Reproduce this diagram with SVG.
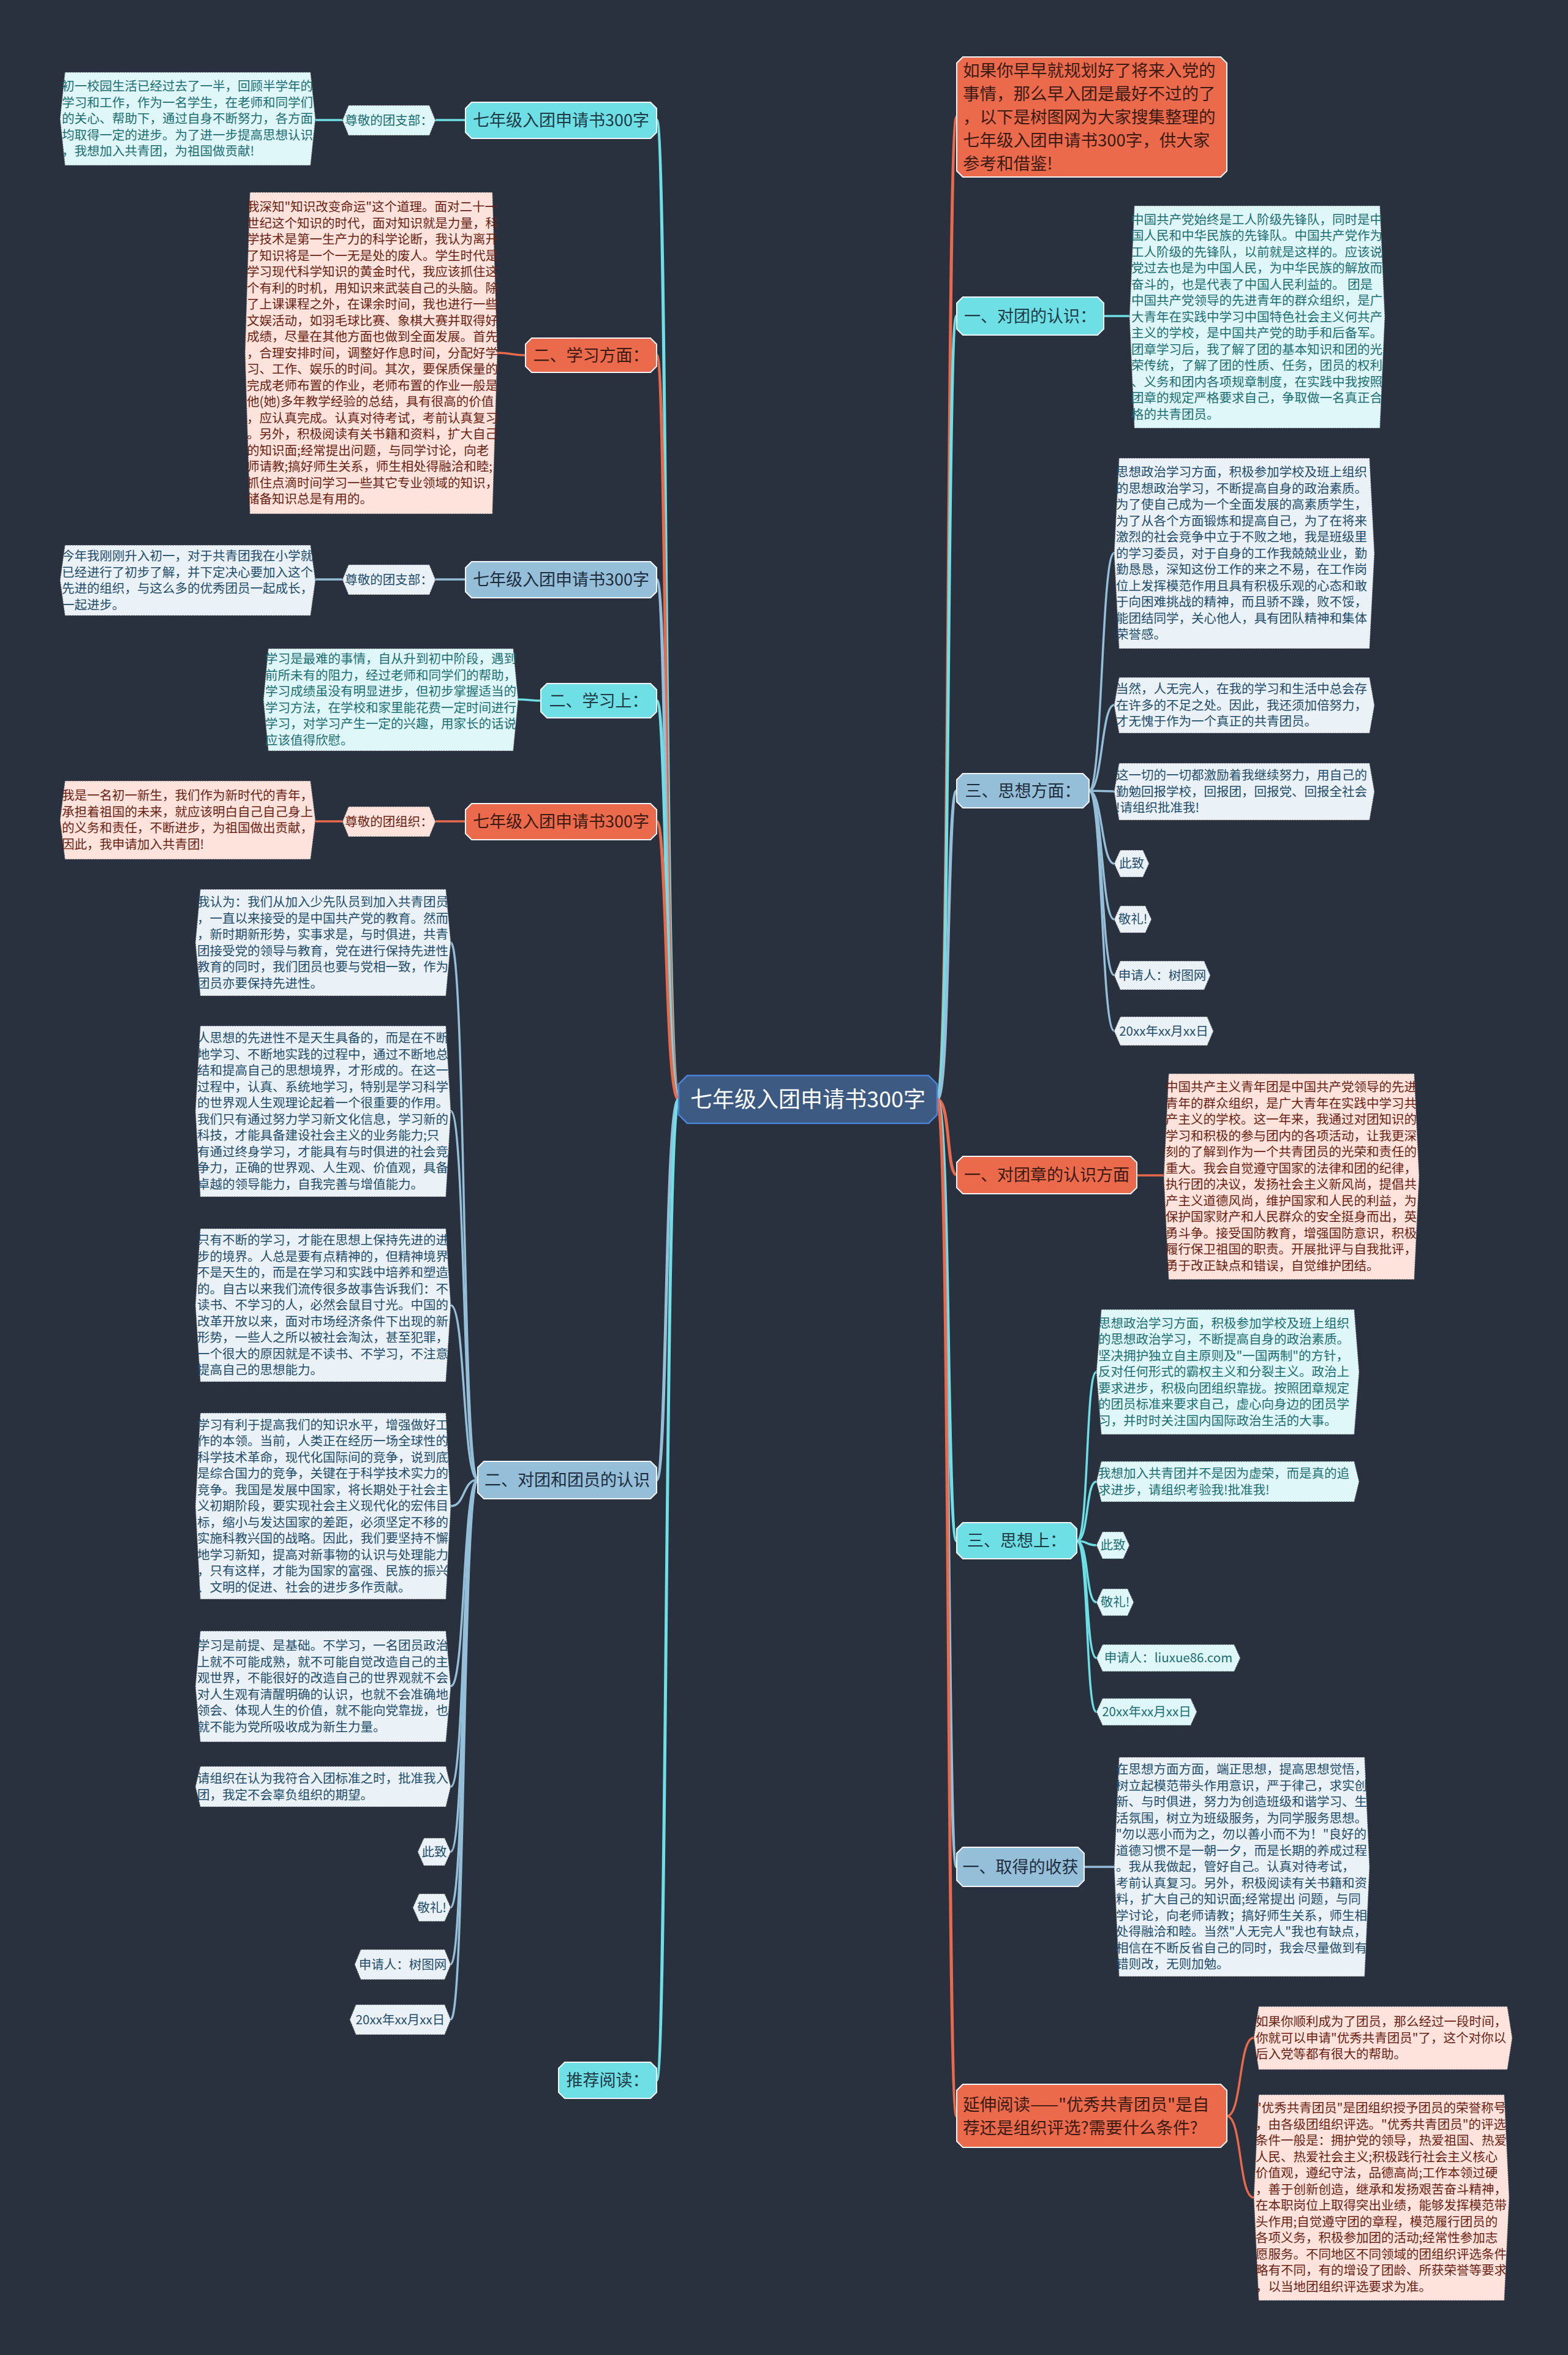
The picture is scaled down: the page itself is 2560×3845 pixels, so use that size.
<svg xmlns="http://www.w3.org/2000/svg" width="2560" height="3845" viewBox="0 0 2560 3845">
<style>
.t{font-family:"Noto Sans CJK SC","Noto Sans",sans-serif}
.bt{font-size:20.5px}
.mt{font-size:27px}
.tc{fill:#1b6e73}.tb{fill:#1f4d6b}.tp{fill:#6b1f12}
.fc{fill:#dff7f9}.fb{fill:#eaf2f8}.fp{fill:#fde3dc}
.sh{stroke:#4a4f57;stroke-width:1.2;stroke-dasharray:2 2}
.mc{fill:#6ddfe5}.mo{fill:#ec6a4c}.mb{fill:#95bed8}
.ms{stroke:#f2f6f8;stroke-width:2}
.mtc{fill:#1f3b45}.mto{fill:#3b1a12}.mtb{fill:#1e2d3d}
.lc{stroke:#6ddfe5;fill:none}.lo{stroke:#e8694b;fill:none}.lb{stroke:#95bed8;fill:none}
.w5{stroke-width:5}.w3{stroke-width:3.5}
</style>
<rect width="2560" height="3845" fill="#29313f"/>
<g id="connectors">
<path class="lc w5" d="M1108,1795 C1085,1795 1090,196 1072,196"/>
<path class="lo w5" d="M1108,1795 C1085,1795 1090,580 1072,580"/>
<path class="lb w5" d="M1108,1795 C1085,1795 1090,946 1072,946"/>
<path class="lc w5" d="M1108,1795 C1085,1795 1090,1144 1072,1144"/>
<path class="lo w5" d="M1108,1795 C1085,1795 1090,1341 1072,1341"/>
<path class="lb w5" d="M1108,1795 C1085,1795 1090,2416 1072,2416"/>
<path class="lc w5" d="M1108,1795 C1085,1795 1090,3396 1072,3396"/>
<path class="lo w5" d="M1530,1795 C1552,1795 1545,191 1562,191"/>
<path class="lc w5" d="M1530,1795 C1552,1795 1545,516 1562,516"/>
<path class="lb w5" d="M1530,1795 C1552,1795 1545,1291 1562,1291"/>
<path class="lo w5" d="M1530,1795 C1552,1795 1545,1918 1562,1918"/>
<path class="lc w5" d="M1530,1795 C1552,1795 1545,2516 1562,2516"/>
<path class="lb w5" d="M1530,1795 C1552,1795 1545,3048 1562,3048"/>
<path class="lo w5" d="M1530,1795 C1552,1795 1545,3455 1562,3455"/>
<path class="lc w3" d="M760,196 H711 M559,196 H515"/>
<path class="lo w3" d="M858,580 C835,580 835,576 812,576"/>
<path class="lb w3" d="M760,946 H711 M559,946 H515"/>
<path class="lc w3" d="M883,1144 C865,1144 865,1142 846,1142"/>
<path class="lo w3" d="M760,1341 H711 M559,1341 H515"/>
<path class="lb w3" d="M780,2416 C755,2416 760,1539 736,1539"/>
<path class="lb w3" d="M780,2416 C755,2416 760,1814 736,1814"/>
<path class="lb w3" d="M780,2416 C755,2416 760,2131 736,2131"/>
<path class="lb w3" d="M780,2416 C755,2416 760,2459 736,2459"/>
<path class="lb w3" d="M780,2416 C755,2416 760,2753 736,2753"/>
<path class="lb w3" d="M780,2416 C755,2416 760,2917 736,2917"/>
<path class="lb w3" d="M780,2416 C755,2416 760,3023 736,3023"/>
<path class="lb w3" d="M780,2416 C755,2416 760,3114 736,3114"/>
<path class="lb w3" d="M780,2416 C755,2416 760,3207 736,3207"/>
<path class="lb w3" d="M780,2416 C755,2416 760,3297 736,3297"/>
<path class="lc w3" d="M1802,516 H1844"/>
<path class="lb w3" d="M1778,1291 C1800,1291 1798,903 1819,903"/>
<path class="lb w3" d="M1778,1291 C1800,1291 1798,1151 1819,1151"/>
<path class="lb w3" d="M1778,1291 C1800,1291 1798,1292 1819,1292"/>
<path class="lb w3" d="M1778,1291 C1800,1291 1798,1410 1819,1410"/>
<path class="lb w3" d="M1778,1291 C1800,1291 1798,1501 1819,1501"/>
<path class="lb w3" d="M1778,1291 C1800,1291 1798,1592 1819,1592"/>
<path class="lb w3" d="M1778,1291 C1800,1291 1798,1683 1819,1683"/>
<path class="lo w3" d="M1856,1919 H1900"/>
<path class="lc w3" d="M1758,2516 C1778,2516 1772,2240 1790,2240"/>
<path class="lc w3" d="M1758,2516 C1778,2516 1772,2419 1790,2419"/>
<path class="lc w3" d="M1758,2516 C1778,2516 1772,2523 1790,2523"/>
<path class="lc w3" d="M1758,2516 C1778,2516 1772,2616 1790,2616"/>
<path class="lc w3" d="M1758,2516 C1778,2516 1772,2707 1790,2707"/>
<path class="lc w3" d="M1758,2516 C1778,2516 1772,2795 1790,2795"/>
<path class="lb w3" d="M1770,3048 H1819"/>
<path class="lo w3" d="M2003,3455 C2028,3455 2022,3327 2047,3327"/>
<path class="lo w3" d="M2003,3455 C2028,3455 2022,3588 2047,3588"/>
</g>
<g id="root">
<polygon points="1122,1756 1516,1756 1530,1770 1530,1820 1516,1834 1122,1834 1108,1820 1108,1770" fill="#3c5a82" stroke="#4a84d8" stroke-width="2.5"/>
<text class="t" x="1319" y="1808" font-size="36" fill="#ffffff" text-anchor="middle">七年级入团申请书300字</text>
</g>
<g id="L1">
<polygon class="mc ms" points="770,167 1062,167 1072,177 1072,216 1062,226 770,226 760,216 760,177"/>
<text class="t mt mtc" x="916" y="206" text-anchor="middle">七年级入团申请书300字</text>
</g>
<g id="L1a">
<polygon class="fc sh" points="569,172 701,172 711,196.5 701,221 569,221 559,196.5"/>
<text class="t bt tc" x="635" y="204" text-anchor="middle">尊敬的团支部：</text>
</g>
<g id="L1b">
<polygon class="fc sh" points="106,118 507,118 515,194 507,270 106,270 98,194"/>
<text class="t bt tc" y="148"><tspan x="101">初一校园生活已经过去了一半，回顾半学年的</tspan><tspan x="101" dy="26.5">学习和工作，作为一名学生，在老师和同学们</tspan><tspan x="101" dy="26.5">的关心、帮助下，通过自身不断努力，各方面</tspan><tspan x="101" dy="26.5">均取得一定的进步。为了进一步提高思想认识</tspan><tspan x="101" dy="26.5">，我想加入共青团，为祖国做贡献!</tspan></text>
</g>
<g id="L2">
<polygon class="mo ms" points="868,552 1062,552 1072,562 1072,598 1062,608 868,608 858,598 858,562"/>
<text class="t mt mto" x="965" y="589.5" text-anchor="middle">二、学习方面：</text>
</g>
<g id="L2a">
<polygon class="fp sh" points="408,314 804,314 812,576.5 804,839 408,839 400,576.5"/>
<text class="t bt tp" y="345"><tspan x="403">我深知"知识改变命运"这个道理。面对二十一</tspan><tspan x="403" dy="26.5">世纪这个知识的时代，面对知识就是力量，科</tspan><tspan x="403" dy="26.5">学技术是第一生产力的科学论断，我认为离开</tspan><tspan x="403" dy="26.5">了知识将是一个一无是处的废人。学生时代是</tspan><tspan x="403" dy="26.5">学习现代科学知识的黄金时代，我应该抓住这</tspan><tspan x="403" dy="26.5">个有利的时机，用知识来武装自己的头脑。除</tspan><tspan x="403" dy="26.5">了上课课程之外，在课余时间，我也进行一些</tspan><tspan x="403" dy="26.5">文娱活动，如羽毛球比赛、象棋大赛并取得好</tspan><tspan x="403" dy="26.5">成绩，尽量在其他方面也做到全面发展。首先</tspan><tspan x="403" dy="26.5">，合理安排时间，调整好作息时间，分配好学</tspan><tspan x="403" dy="26.5">习、工作、娱乐的时间。其次，要保质保量的</tspan><tspan x="403" dy="26.5">完成老师布置的作业，老师布置的作业一般是</tspan><tspan x="403" dy="26.5">他(她)多年教学经验的总结，具有很高的价值</tspan><tspan x="403" dy="26.5">，应认真完成。认真对待考试，考前认真复习</tspan><tspan x="403" dy="26.5">。另外，积极阅读有关书籍和资料，扩大自己</tspan><tspan x="403" dy="26.5">的知识面;经常提出问题，与同学讨论，向老</tspan><tspan x="403" dy="26.5">师请教;搞好师生关系，师生相处得融洽和睦;</tspan><tspan x="403" dy="26.5">抓住点滴时间学习一些其它专业领域的知识，</tspan><tspan x="403" dy="26.5">储备知识总是有用的。</tspan></text>
</g>
<g id="L3">
<polygon class="mb ms" points="770,917 1062,917 1072,927 1072,966 1062,976 770,976 760,966 760,927"/>
<text class="t mt mtb" x="916" y="956" text-anchor="middle">七年级入团申请书300字</text>
</g>
<g id="L3a">
<polygon class="fb sh" points="569,922 701,922 711,946.5 701,971 569,971 559,946.5"/>
<text class="t bt tb" x="635" y="954" text-anchor="middle">尊敬的团支部：</text>
</g>
<g id="L3b">
<polygon class="fb sh" points="106,890 507,890 515,947.5 507,1005 106,1005 98,947.5"/>
<text class="t bt tb" y="915"><tspan x="101">今年我刚刚升入初一，对于共青团我在小学就</tspan><tspan x="101" dy="26.5">已经进行了初步了解，并下定决心要加入这个</tspan><tspan x="101" dy="26.5">先进的组织，与这么多的优秀团员一起成长，</tspan><tspan x="101" dy="26.5">一起进步。</tspan></text>
</g>
<g id="L4">
<polygon class="mc ms" points="893,1116 1062,1116 1072,1126 1072,1162 1062,1172 893,1172 883,1162 883,1126"/>
<text class="t mt mtc" x="977.5" y="1153.5" text-anchor="middle">二、学习上：</text>
</g>
<g id="L4a">
<polygon class="fc sh" points="438,1059 838,1059 846,1142.5 838,1226 438,1226 430,1142.5"/>
<text class="t bt tc" y="1083"><tspan x="433">学习是最难的事情，自从升到初中阶段，遇到</tspan><tspan x="433" dy="26.5">前所未有的阻力，经过老师和同学们的帮助，</tspan><tspan x="433" dy="26.5">学习成绩虽没有明显进步，但初步掌握适当的</tspan><tspan x="433" dy="26.5">学习方法，在学校和家里能花费一定时间进行</tspan><tspan x="433" dy="26.5">学习，对学习产生一定的兴趣，用家长的话说</tspan><tspan x="433" dy="26.5">应该值得欣慰。</tspan></text>
</g>
<g id="L5">
<polygon class="mo ms" points="770,1312 1062,1312 1072,1322 1072,1361 1062,1371 770,1371 760,1361 760,1322"/>
<text class="t mt mto" x="916" y="1351" text-anchor="middle">七年级入团申请书300字</text>
</g>
<g id="L5a">
<polygon class="fp sh" points="569,1317 701,1317 711,1341.5 701,1366 569,1366 559,1341.5"/>
<text class="t bt tp" x="635" y="1349" text-anchor="middle">尊敬的团组织：</text>
</g>
<g id="L5b">
<polygon class="fp sh" points="106,1275 507,1275 515,1339 507,1403 106,1403 98,1339"/>
<text class="t bt tp" y="1306"><tspan x="101">我是一名初一新生，我们作为新时代的青年，</tspan><tspan x="101" dy="26.5">承担着祖国的未来，就应该明白自己自己身上</tspan><tspan x="101" dy="26.5">的义务和责任，不断进步，为祖国做出贡献，</tspan><tspan x="101" dy="26.5">因此，我申请加入共青团!</tspan></text>
</g>
<g id="L6">
<polygon class="mb ms" points="790,2386 1062,2386 1072,2396 1072,2437 1062,2447 790,2447 780,2437 780,2396"/>
<text class="t mt mtb" x="926" y="2426" text-anchor="middle">二、对团和团员的认识</text>
</g>
<g id="L6a">
<polygon class="fb sh" points="327,1452 728,1452 736,1539 728,1626 327,1626 319,1539"/>
<text class="t bt tb" y="1480"><tspan x="322">我认为：我们从加入少先队员到加入共青团员</tspan><tspan x="322" dy="26.5">，一直以来接受的是中国共产党的教育。然而</tspan><tspan x="322" dy="26.5">，新时期新形势，实事求是，与时俱进，共青</tspan><tspan x="322" dy="26.5">团接受党的领导与教育，党在进行保持先进性</tspan><tspan x="322" dy="26.5">教育的同时，我们团员也要与党相一致，作为</tspan><tspan x="322" dy="26.5">团员亦要保持先进性。</tspan></text>
</g>
<g id="L6b">
<polygon class="fb sh" points="327,1675 728,1675 736,1814.5 728,1954 327,1954 319,1814.5"/>
<text class="t bt tb" y="1702"><tspan x="322">人思想的先进性不是天生具备的，而是在不断</tspan><tspan x="322" dy="26.5">地学习、不断地实践的过程中，通过不断地总</tspan><tspan x="322" dy="26.5">结和提高自己的思想境界，才形成的。在这一</tspan><tspan x="322" dy="26.5">过程中，认真、系统地学习，特别是学习科学</tspan><tspan x="322" dy="26.5">的世界观人生观理论起着一个很重要的作用。</tspan><tspan x="322" dy="26.5">我们只有通过努力学习新文化信息，学习新的</tspan><tspan x="322" dy="26.5">科技，才能具备建设社会主义的业务能力;只</tspan><tspan x="322" dy="26.5">有通过终身学习，才能具有与时俱进的社会竞</tspan><tspan x="322" dy="26.5">争力，正确的世界观、人生观、价值观，具备</tspan><tspan x="322" dy="26.5">卓越的领导能力，自我完善与增值能力。</tspan></text>
</g>
<g id="L6c">
<polygon class="fb sh" points="327,2006 728,2006 736,2131 728,2256 327,2256 319,2131"/>
<text class="t bt tb" y="2032"><tspan x="322">只有不断的学习，才能在思想上保持先进的进</tspan><tspan x="322" dy="26.5">步的境界。人总是要有点精神的，但精神境界</tspan><tspan x="322" dy="26.5">不是天生的，而是在学习和实践中培养和塑造</tspan><tspan x="322" dy="26.5">的。自古以来我们流传很多故事告诉我们：不</tspan><tspan x="322" dy="26.5">读书、不学习的人，必然会鼠目寸光。中国的</tspan><tspan x="322" dy="26.5">改革开放以来，面对市场经济条件下出现的新</tspan><tspan x="322" dy="26.5">形势，一些人之所以被社会淘汰，甚至犯罪，</tspan><tspan x="322" dy="26.5">一个很大的原因就是不读书、不学习，不注意</tspan><tspan x="322" dy="26.5">提高自己的思想能力。</tspan></text>
</g>
<g id="L6d">
<polygon class="fb sh" points="327,2307 728,2307 736,2459 728,2611 327,2611 319,2459"/>
<text class="t bt tb" y="2333.5"><tspan x="322">学习有利于提高我们的知识水平，增强做好工</tspan><tspan x="322" dy="26.5">作的本领。当前，人类正在经历一场全球性的</tspan><tspan x="322" dy="26.5">科学技术革命，现代化国际间的竞争，说到底</tspan><tspan x="322" dy="26.5">是综合国力的竞争，关键在于科学技术实力的</tspan><tspan x="322" dy="26.5">竞争。我国是发展中国家，将长期处于社会主</tspan><tspan x="322" dy="26.5">义初期阶段，要实现社会主义现代化的宏伟目</tspan><tspan x="322" dy="26.5">标，缩小与发达国家的差距，必须坚定不移的</tspan><tspan x="322" dy="26.5">实施科教兴国的战略。因此，我们要坚持不懈</tspan><tspan x="322" dy="26.5">地学习新知，提高对新事物的认识与处理能力</tspan><tspan x="322" dy="26.5">，只有这样，才能为国家的富强、民族的振兴</tspan><tspan x="322" dy="26.5">、文明的促进、社会的进步多作贡献。</tspan></text>
</g>
<g id="L6e">
<polygon class="fb sh" points="327,2663 728,2663 736,2753.5 728,2844 327,2844 319,2753.5"/>
<text class="t bt tb" y="2694"><tspan x="322">学习是前提、是基础。不学习，一名团员政治</tspan><tspan x="322" dy="26.5">上就不可能成熟，就不可能自觉改造自己的主</tspan><tspan x="322" dy="26.5">观世界，不能很好的改造自己的世界观就不会</tspan><tspan x="322" dy="26.5">对人生观有清醒明确的认识，也就不会准确地</tspan><tspan x="322" dy="26.5">领会、体现人生的价值，就不能向党靠拢，也</tspan><tspan x="322" dy="26.5">就不能为党所吸收成为新生力量。</tspan></text>
</g>
<g id="L6f">
<polygon class="fb sh" points="327,2884 728,2884 736,2917 728,2950 327,2950 319,2917"/>
<text class="t bt tb" y="2911"><tspan x="322">请组织在认为我符合入团标准之时，批准我入</tspan><tspan x="322" dy="26.5">团，我定不会辜负组织的期望。</tspan></text>
</g>
<g id="L6g">
<polygon class="fb sh" points="692,3001 726,3001 736,3023.5 726,3046 692,3046 682,3023.5"/>
<text class="t bt tb" x="709" y="3031" text-anchor="middle">此致</text>
</g>
<g id="L6h">
<polygon class="fb sh" points="684,3092 726,3092 736,3114.5 726,3137 684,3137 674,3114.5"/>
<text class="t bt tb" x="705" y="3122" text-anchor="middle">敬礼!</text>
</g>
<g id="L6i">
<polygon class="fb sh" points="589,3183 726,3183 736,3207.5 726,3232 589,3232 579,3207.5"/>
<text class="t bt tb" x="657.5" y="3215" text-anchor="middle">申请人：树图网</text>
</g>
<g id="L6j">
<polygon class="fb sh" points="581,3273 726,3273 736,3297.5 726,3322 581,3322 571,3297.5"/>
<text class="t bt tb" x="653.5" y="3305" text-anchor="middle">20xx年xx月xx日</text>
</g>
<g id="L7">
<polygon class="mc ms" points="922,3367 1062,3367 1072,3377 1072,3416 1062,3426 922,3426 912,3416 912,3377"/>
<text class="t mt mtc" x="992" y="3406" text-anchor="middle">推荐阅读：</text>
</g>
<g id="R0">
<polygon class="mo ms" points="1572,93 1993,93 2003,103 2003,279 1993,289 1572,289 1562,279 1562,103"/>
<text class="t mto" font-size="27.5" y="125"><tspan x="1572">如果你早早就规划好了将来入党的</tspan><tspan x="1572" dy="38">事情，那么早入团是最好不过的了</tspan><tspan x="1572" dy="38">，以下是树图网为大家搜集整理的</tspan><tspan x="1572" dy="38">七年级入团申请书300字，供大家</tspan><tspan x="1572" dy="38">参考和借鉴!</tspan></text>
</g>
<g id="R1">
<polygon class="mc ms" points="1572,485 1792,485 1802,495 1802,537 1792,547 1572,547 1562,537 1562,495"/>
<text class="t mt mtc" x="1682" y="525.5" text-anchor="middle">一、对团的认识：</text>
</g>
<g id="R1a">
<polygon class="fc sh" points="1852,336 2253,336 2261,517.5 2253,699 1852,699 1844,517.5"/>
<text class="t bt tc" y="365.5"><tspan x="1847">中国共产党始终是工人阶级先锋队，同时是中</tspan><tspan x="1847" dy="26.5">国人民和中华民族的先锋队。中国共产党作为</tspan><tspan x="1847" dy="26.5">工人阶级的先锋队，以前就是这样的。应该说</tspan><tspan x="1847" dy="26.5">党过去也是为中国人民，为中华民族的解放而</tspan><tspan x="1847" dy="26.5">奋斗的，也是代表了中国人民利益的。 团是</tspan><tspan x="1847" dy="26.5">中国共产党领导的先进青年的群众组织，是广</tspan><tspan x="1847" dy="26.5">大青年在实践中学习中国特色社会主义何共产</tspan><tspan x="1847" dy="26.5">主义的学校，是中国共产党的助手和后备军。</tspan><tspan x="1847" dy="26.5">团章学习后，我了解了团的基本知识和团的光</tspan><tspan x="1847" dy="26.5">荣传统，了解了团的性质、任务，团员的权利</tspan><tspan x="1847" dy="26.5">、义务和团内各项规章制度，在实践中我按照</tspan><tspan x="1847" dy="26.5">团章的规定严格要求自己，争取做一名真正合</tspan><tspan x="1847" dy="26.5">格的共青团员。</tspan></text>
</g>
<g id="R2">
<polygon class="mb ms" points="1572,1263 1768,1263 1778,1273 1778,1309 1768,1319 1572,1319 1562,1309 1562,1273"/>
<text class="t mt mtb" x="1670" y="1300.5" text-anchor="middle">三、思想方面：</text>
</g>
<g id="R2a">
<polygon class="fb sh" points="1827,748 2236,748 2244,903.5 2236,1059 1827,1059 1819,903.5"/>
<text class="t bt tb" y="778"><tspan x="1822">思想政治学习方面，积极参加学校及班上组织</tspan><tspan x="1822" dy="26.5">的思想政治学习，不断提高自身的政治素质。</tspan><tspan x="1822" dy="26.5">为了使自己成为一个全面发展的高素质学生，</tspan><tspan x="1822" dy="26.5">为了从各个方面锻炼和提高自己，为了在将来</tspan><tspan x="1822" dy="26.5">激烈的社会竞争中立于不败之地，我是班级里</tspan><tspan x="1822" dy="26.5">的学习委员，对于自身的工作我兢兢业业，勤</tspan><tspan x="1822" dy="26.5">勤恳恳，深知这份工作的来之不易，在工作岗</tspan><tspan x="1822" dy="26.5">位上发挥模范作用且具有积极乐观的心态和敢</tspan><tspan x="1822" dy="26.5">于向困难挑战的精神，而且骄不躁，败不馁，</tspan><tspan x="1822" dy="26.5">能团结同学，关心他人，具有团队精神和集体</tspan><tspan x="1822" dy="26.5">荣誉感。</tspan></text>
</g>
<g id="R2b">
<polygon class="fb sh" points="1827,1106 2236,1106 2244,1151.5 2236,1197 1827,1197 1819,1151.5"/>
<text class="t bt tb" y="1132"><tspan x="1822">当然，人无完人，在我的学习和生活中总会存</tspan><tspan x="1822" dy="26.5">在许多的不足之处。因此，我还须加倍努力，</tspan><tspan x="1822" dy="26.5">才无愧于作为一个真正的共青团员。</tspan></text>
</g>
<g id="R2c">
<polygon class="fb sh" points="1827,1246 2236,1246 2244,1292.5 2236,1339 1827,1339 1819,1292.5"/>
<text class="t bt tb" y="1273"><tspan x="1822">这一切的一切都激励着我继续努力，用自己的</tspan><tspan x="1822" dy="26.5">勤勉回报学校，回报团，回报党、回报全社会</tspan><tspan x="1822" dy="26.5">!请组织批准我!</tspan></text>
</g>
<g id="R2d">
<polygon class="fb sh" points="1829,1388 1866,1388 1876,1410 1866,1432 1829,1432 1819,1410"/>
<text class="t bt tb" x="1847.5" y="1417" text-anchor="middle">此致</text>
</g>
<g id="R2e">
<polygon class="fb sh" points="1829,1479 1870,1479 1880,1501 1870,1523 1829,1523 1819,1501"/>
<text class="t bt tb" x="1849.5" y="1508" text-anchor="middle">敬礼!</text>
</g>
<g id="R2f">
<polygon class="fb sh" points="1829,1569 1966,1569 1976,1592.5 1966,1616 1829,1616 1819,1592.5"/>
<text class="t bt tb" x="1897.5" y="1600" text-anchor="middle">申请人：树图网</text>
</g>
<g id="R2g">
<polygon class="fb sh" points="1829,1660 1971,1660 1981,1683.5 1971,1707 1829,1707 1819,1683.5"/>
<text class="t bt tb" x="1900" y="1691" text-anchor="middle">20xx年xx月xx日</text>
</g>
<g id="R3">
<polygon class="mo ms" points="1572,1888 1846,1888 1856,1898 1856,1939 1846,1949 1572,1949 1562,1939 1562,1898"/>
<text class="t mt mto" x="1709" y="1928" text-anchor="middle">一、对团章的认识方面</text>
</g>
<g id="R3a">
<polygon class="fp sh" points="1908,1753 2309,1753 2317,1921 2309,2089 1908,2089 1900,1921"/>
<text class="t bt tp" y="1782"><tspan x="1903">中国共产主义青年团是中国共产党领导的先进</tspan><tspan x="1903" dy="26.5">青年的群众组织，是广大青年在实践中学习共</tspan><tspan x="1903" dy="26.5">产主义的学校。这一年来，我通过对团知识的</tspan><tspan x="1903" dy="26.5">学习和积极的参与团内的各项活动，让我更深</tspan><tspan x="1903" dy="26.5">刻的了解到作为一个共青团员的光荣和责任的</tspan><tspan x="1903" dy="26.5">重大。我会自觉遵守国家的法律和团的纪律，</tspan><tspan x="1903" dy="26.5">执行团的决议，发扬社会主义新风尚，提倡共</tspan><tspan x="1903" dy="26.5">产主义道德风尚，维护国家和人民的利益，为</tspan><tspan x="1903" dy="26.5">保护国家财产和人民群众的安全挺身而出，英</tspan><tspan x="1903" dy="26.5">勇斗争。接受国防教育，增强国防意识，积极</tspan><tspan x="1903" dy="26.5">履行保卫祖国的职责。开展批评与自我批评，</tspan><tspan x="1903" dy="26.5">勇于改正缺点和错误，自觉维护团结。</tspan></text>
</g>
<g id="R4">
<polygon class="mc ms" points="1572,2486 1748,2486 1758,2496 1758,2535 1748,2545 1572,2545 1562,2535 1562,2496"/>
<text class="t mt mtc" x="1660" y="2525" text-anchor="middle">三、思想上：</text>
</g>
<g id="R4a">
<polygon class="fc sh" points="1798,2138 2211,2138 2219,2240 2211,2342 1798,2342 1790,2240"/>
<text class="t bt tc" y="2167.5"><tspan x="1793">思想政治学习方面，积极参加学校及班上组织</tspan><tspan x="1793" dy="26.5">的思想政治学习，不断提高自身的政治素质。</tspan><tspan x="1793" dy="26.5">坚决拥护独立自主原则及"一国两制"的方针，</tspan><tspan x="1793" dy="26.5">反对任何形式的霸权主义和分裂主义。政治上</tspan><tspan x="1793" dy="26.5">要求进步，积极向团组织靠拢。按照团章规定</tspan><tspan x="1793" dy="26.5">的团员标准来要求自己，虚心向身边的团员学</tspan><tspan x="1793" dy="26.5">习，并时时关注国内国际政治生活的大事。</tspan></text>
</g>
<g id="R4b">
<polygon class="fc sh" points="1798,2386 2211,2386 2219,2419 2211,2452 1798,2452 1790,2419"/>
<text class="t bt tc" y="2413"><tspan x="1793">我想加入共青团并不是因为虚荣，而是真的追</tspan><tspan x="1793" dy="26.5">求进步，请组织考验我!批准我!</tspan></text>
</g>
<g id="R4c">
<polygon class="fc sh" points="1800,2501 1834,2501 1844,2523 1834,2545 1800,2545 1790,2523"/>
<text class="t bt tc" x="1817" y="2530" text-anchor="middle">此致</text>
</g>
<g id="R4d">
<polygon class="fc sh" points="1800,2594 1841,2594 1851,2616 1841,2638 1800,2638 1790,2616"/>
<text class="t bt tc" x="1820.5" y="2623" text-anchor="middle">敬礼!</text>
</g>
<g id="R4e">
<polygon class="fc sh" points="1800,2685 2015,2685 2025,2707 2015,2729 1800,2729 1790,2707"/>
<text class="t bt tc" x="1907.5" y="2714" text-anchor="middle">申请人：liuxue86.com</text>
</g>
<g id="R4f">
<polygon class="fc sh" points="1800,2773 1944,2773 1954,2795 1944,2817 1800,2817 1790,2795"/>
<text class="t bt tc" x="1872" y="2802" text-anchor="middle">20xx年xx月xx日</text>
</g>
<g id="R5">
<polygon class="mb ms" points="1572,3016 1760,3016 1770,3026 1770,3070 1760,3080 1572,3080 1562,3070 1562,3026"/>
<text class="t mt mtb" x="1666" y="3057.5" text-anchor="middle">一、取得的收获</text>
</g>
<g id="R5a">
<polygon class="fb sh" points="1827,2869 2228,2869 2236,3048 2228,3227 1827,3227 1819,3048"/>
<text class="t bt tb" y="2896"><tspan x="1822">在思想方面方面，端正思想，提高思想觉悟，</tspan><tspan x="1822" dy="26.5">树立起模范带头作用意识，严于律己，求实创</tspan><tspan x="1822" dy="26.5">新、与时俱进，努力为创造班级和谐学习、生</tspan><tspan x="1822" dy="26.5">活氛围，树立为班级服务，为同学服务思想。</tspan><tspan x="1822" dy="26.5">"勿以恶小而为之，勿以善小而不为！"良好的</tspan><tspan x="1822" dy="26.5">道德习惯不是一朝一夕，而是长期的养成过程</tspan><tspan x="1822" dy="26.5">。我从我做起，管好自己。认真对待考试，</tspan><tspan x="1822" dy="26.5">考前认真复习。另外，积极阅读有关书籍和资</tspan><tspan x="1822" dy="26.5">料，扩大自己的知识面;经常提出 问题，与同</tspan><tspan x="1822" dy="26.5">学讨论，向老师请教；搞好师生关系，师生相</tspan><tspan x="1822" dy="26.5">处得融洽和睦。当然"人无完人"我也有缺点，</tspan><tspan x="1822" dy="26.5">相信在不断反省自己的同时，我会尽量做到有</tspan><tspan x="1822" dy="26.5">错则改，无则加勉。</tspan></text>
</g>
<g id="R6">
<polygon class="mo ms" points="1572,3403 1993,3403 2003,3413 2003,3496 1993,3506 1572,3506 1562,3496 1562,3413"/>
<text class="t mto" font-size="27.5" y="3445.5"><tspan x="1572">延伸阅读——"优秀共青团员"是自</tspan><tspan x="1572" dy="38">荐还是组织评选?需要什么条件?</tspan></text>
</g>
<g id="R6a">
<polygon class="fp sh" points="2055,3276 2461,3276 2469,3327.5 2461,3379 2055,3379 2047,3327.5"/>
<text class="t bt tp" y="3308"><tspan x="2050">如果你顺利成为了团员，那么经过一段时间，</tspan><tspan x="2050" dy="26.5">你就可以申请"优秀共青团员"了，这个对你以</tspan><tspan x="2050" dy="26.5">后入党等都有很大的帮助。</tspan></text>
</g>
<g id="R6b">
<polygon class="fp sh" points="2055,3420 2456,3420 2464,3588 2456,3756 2055,3756 2047,3588"/>
<text class="t bt tp" y="3449"><tspan x="2050">"优秀共青团员"是团组织授予团员的荣誉称号</tspan><tspan x="2050" dy="26.5">，由各级团组织评选。"优秀共青团员"的评选</tspan><tspan x="2050" dy="26.5">条件一般是：拥护党的领导，热爱祖国、热爱</tspan><tspan x="2050" dy="26.5">人民、热爱社会主义;积极践行社会主义核心</tspan><tspan x="2050" dy="26.5">价值观，遵纪守法，品德高尚;工作本领过硬</tspan><tspan x="2050" dy="26.5">，善于创新创造，继承和发扬艰苦奋斗精神，</tspan><tspan x="2050" dy="26.5">在本职岗位上取得突出业绩，能够发挥模范带</tspan><tspan x="2050" dy="26.5">头作用;自觉遵守团的章程，模范履行团员的</tspan><tspan x="2050" dy="26.5">各项义务，积极参加团的活动;经常性参加志</tspan><tspan x="2050" dy="26.5">愿服务。不同地区不同领域的团组织评选条件</tspan><tspan x="2050" dy="26.5">略有不同，有的增设了团龄、所获荣誉等要求</tspan><tspan x="2050" dy="26.5">，以当地团组织评选要求为准。</tspan></text>
</g>
</svg>
